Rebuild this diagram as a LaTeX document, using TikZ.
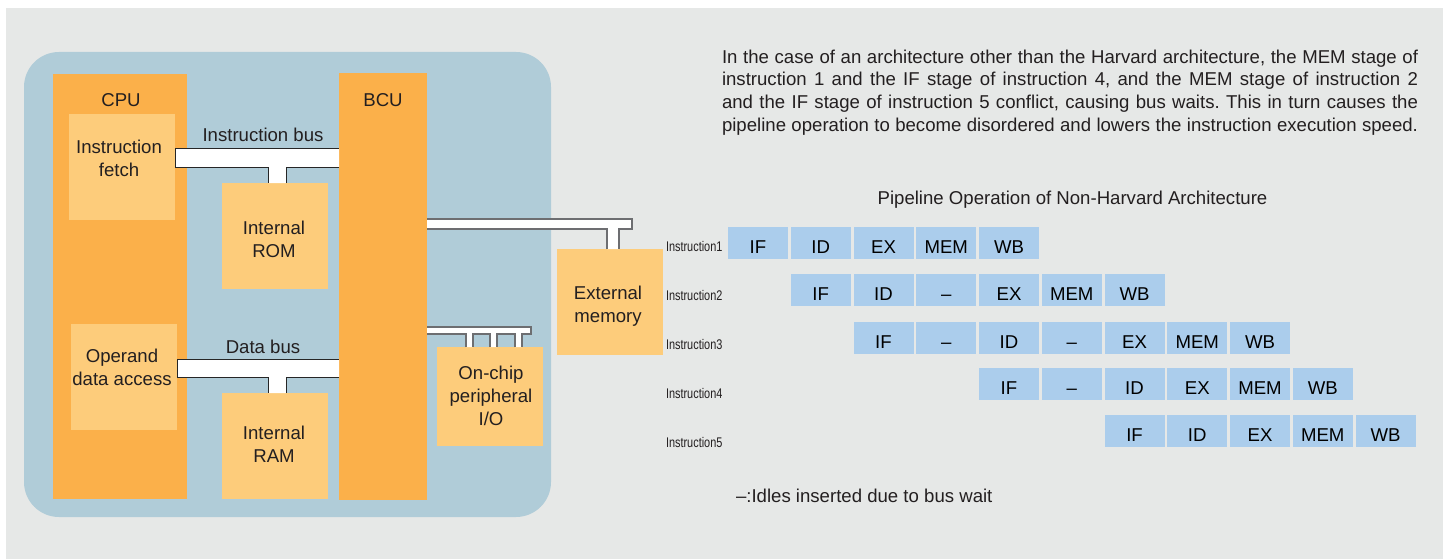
\documentclass[tikz,border=0pt]{standalone}
\usepackage{fontspec}
\setmainfont{Liberation Sans}
\newfontfamily\narrowfont[FakeStretch=0.78]{Liberation Sans}
\usepackage{tikz}
\usepackage{xcolor}
\frenchspacing

\definecolor{bggrey}{RGB}{230,232,231}
\definecolor{chipblue}{RGB}{176,204,216}
\definecolor{unitorange}{RGB}{251,176,74}
\definecolor{memorange}{RGB}{253,204,123}
\definecolor{stageblue}{RGB}{171,205,236}
\definecolor{txtgrey}{RGB}{35,31,32}
\definecolor{busgrey}{RGB}{109,110,113}

\newcommand{\lblfont}{\fontsize{18.6}{22.8}\selectfont}
\newcommand{\rowfont}{\narrowfont\fontsize{14}{16}\selectfont}

\begin{document}
\begin{tikzpicture}[x=1pt,y=-1pt,
    every node/.style={inner sep=0pt,outer sep=0pt,text=txtgrey,font=\lblfont},
    unitbox/.style={fill=unitorange,anchor=north west},
    membox/.style={fill=memorange,anchor=north west,minimum width=106pt,minimum height=106pt},
    stagebox/.style={fill=stageblue,minimum width=60pt,minimum height=32pt,text=black,text height=20.6pt,text depth=0pt},
    rowlbl/.style={anchor=base west,font=\rowfont},
    inbus/.style={draw=black!85,line width=1pt},
    exbus/.style={draw=busgrey,line width=1.5pt}]
    \useasboundingbox (0,0) rectangle (1450,559);
    \fill[bggrey] (6,8) rectangle (1443,559);
    \fill[chipblue,rounded corners=35pt] (24,52) rectangle (551,517);

    % units and memories
    \node[unitbox,minimum width=134pt,minimum height=425pt] (cpu) at (53,74) {};
    \node[unitbox,minimum width=88pt,minimum height=427pt] (bcu) at (339,73) {};
    \node[membox] (fetch) at (69,114) {};
    \node[membox] (operand) at (71,324) {};
    \node[membox] (rom) at (222,183) {};
    \node[membox] (ram) at (222,393) {};
    \node[membox,minimum height=99pt] (periph) at (437,347) {};
    \node[membox] (extmem) at (557,249) {};

    \node[anchor=base] (cpulbl) at (121,107) {CPU};
    \node[anchor=base] (bculbl) at (383,107) {BCU};
    \node[align=center] (fetchlbl) at (119,158.5) {Instruction\\fetch};
    \node[align=center] (operandlbl) at (122,367.5) {Operand\\data access};
    \node[align=center] (romlbl) at (274,239.5) {Internal\\ROM};
    \node[align=center] (ramlbl) at (274,444) {Internal\\RAM};
    \node[align=center] (periphlbl) at (491,396) {On-chip\\peripheral\\I/O};
    \node[align=center] (extmemlbl) at (608,306) {External\\memory};

    % instruction bus
    \fill[white] (fetch.east |- 0,148) -- (bcu.west |- 0,148) -- (bcu.west |- 0,167) -- (286,167) -- (286,0 |- rom.north) -- (268,0 |- rom.north) -- (268,167) -- (fetch.east |- 0,167) -- cycle;
    \draw[inbus] (bcu.west |- 0,148) -- (fetch.east |- 0,148) -- (fetch.east |- 0,167) -- (268,167) -- (268,0 |- rom.north);
    \draw[inbus] (286,0 |- rom.north) -- (286,167) -- (bcu.west |- 0,167);
    \node[anchor=base] (ibuslbl) at (263,142) {Instruction bus};

    % data bus
    \fill[white] (operand.east |- 0,359) -- (bcu.west |- 0,359) -- (bcu.west |- 0,377) -- (286,377) -- (286,0 |- ram.north) -- (268,0 |- ram.north) -- (268,377) -- (operand.east |- 0,377) -- cycle;
    \draw[inbus] (bcu.west |- 0,359) -- (operand.east |- 0,359) -- (operand.east |- 0,377) -- (268,377) -- (268,0 |- ram.north);
    \draw[inbus] (286,0 |- ram.north) -- (286,377) -- (bcu.west |- 0,377);
    \node[anchor=base] (dbuslbl) at (263,353) {Data bus};

    % external bus
    \fill[white] (bcu.east |- 0,219) -- (632,219) -- (632,229) -- (619,229) -- (619,0 |- extmem.north) -- (607,0 |- extmem.north) -- (607,229) -- (bcu.east |- 0,229) -- cycle;
    \draw[exbus] (bcu.east |- 0,219) -- (632,219) -- (632,229) -- (619,229) -- (619,0 |- extmem.north);
    \draw[exbus] (607,0 |- extmem.north) -- (607,229) -- (bcu.east |- 0,229);

    % peripheral bus
    \fill[white] (bcu.east |- 0,327) -- (531,327) -- (531,334) -- (522,334) -- (522,0 |- periph.north) -- (515,0 |- periph.north) -- (515,334) -- (497,334) -- (497,0 |- periph.north) -- (490,0 |- periph.north) -- (490,334) -- (473,334) -- (473,0 |- periph.north) -- (466,0 |- periph.north) -- (466,334) -- (bcu.east |- 0,334) -- cycle;
    \draw[exbus] (bcu.east |- 0,327) -- (531,327) -- (531,334) -- (522,334) -- (522,0 |- periph.north);
    \draw[exbus] (515,0 |- periph.north) -- (515,334) -- (497,334) -- (497,0 |- periph.north);
    \draw[exbus] (490,0 |- periph.north) -- (490,334) -- (473,334) -- (473,0 |- periph.north);
    \draw[exbus] (466,0 |- periph.north) -- (466,334) -- (bcu.east |- 0,334);

    % explanation
    \node[anchor=base west] (note1) at (722,63.3) {\makebox[696pt][s]{In the case of an architecture other than the Harvard architecture, the MEM stage of}};
    \node[anchor=base west] (note2) at (722,85.9) {\makebox[696pt][s]{instruction 1 and the IF stage of instruction 4, and the MEM stage of instruction 2}};
    \node[anchor=base west] (note3) at (722,108.5) {\makebox[696pt][s]{and the IF stage of instruction 5 conflict, causing bus waits. This in turn causes the}};
    \node[anchor=base west] (note4) at (722,131.1) {\makebox[696pt][s]{pipeline operation to become disordered and lowers the instruction execution speed.}};

    \node[anchor=base] (title) at (1072.5,204) {Pipeline Operation of Non-Harvard Architecture};

    % pipeline rows
    \node[rowlbl] (instr1) at (666,251) {Instruction1};
    \node[rowlbl] (instr2) at (666,300) {Instruction2};
    \node[rowlbl] (instr3) at (666,349) {Instruction3};
    \node[rowlbl] (instr4) at (666,398) {Instruction4};
    \node[rowlbl] (instr5) at (666,447) {Instruction5};

    \node[stagebox] (i1if) at (758,243) {IF};
    \node[stagebox] (i1id) at (820.75,243) {ID};
    \node[stagebox] (i1ex) at (883.5,243) {EX};
    \node[stagebox] (i1mem) at (946.25,243) {MEM};
    \node[stagebox] (i1wb) at (1009,243) {WB};

    \node[stagebox] (i2if) at (820.75,290) {IF};
    \node[stagebox] (i2id) at (883.5,290) {ID};
    \node[stagebox] (i2wait) at (946.25,290) {–};
    \node[stagebox] (i2ex) at (1009,290) {EX};
    \node[stagebox] (i2mem) at (1071.75,290) {MEM};
    \node[stagebox] (i2wb) at (1134.5,290) {WB};

    \node[stagebox] (i3if) at (883.5,338) {IF};
    \node[stagebox] (i3waita) at (946.25,338) {–};
    \node[stagebox] (i3id) at (1009,338) {ID};
    \node[stagebox] (i3waitb) at (1071.75,338) {–};
    \node[stagebox] (i3ex) at (1134.5,338) {EX};
    \node[stagebox] (i3mem) at (1197.25,338) {MEM};
    \node[stagebox] (i3wb) at (1260,338) {WB};

    \node[stagebox] (i4if) at (1009,384) {IF};
    \node[stagebox] (i4wait) at (1071.75,384) {–};
    \node[stagebox] (i4id) at (1134.5,384) {ID};
    \node[stagebox] (i4ex) at (1197.25,384) {EX};
    \node[stagebox] (i4mem) at (1260,384) {MEM};
    \node[stagebox] (i4wb) at (1322.75,384) {WB};

    \node[stagebox] (i5if) at (1134.5,431) {IF};
    \node[stagebox] (i5id) at (1197.25,431) {ID};
    \node[stagebox] (i5ex) at (1260,431) {EX};
    \node[stagebox] (i5mem) at (1322.75,431) {MEM};
    \node[stagebox] (i5wb) at (1385.5,431) {WB};

    \node[anchor=base west] (idlenote) at (736,502.7) {–:Idles inserted due to bus wait};
  \end{tikzpicture}
\end{document}
